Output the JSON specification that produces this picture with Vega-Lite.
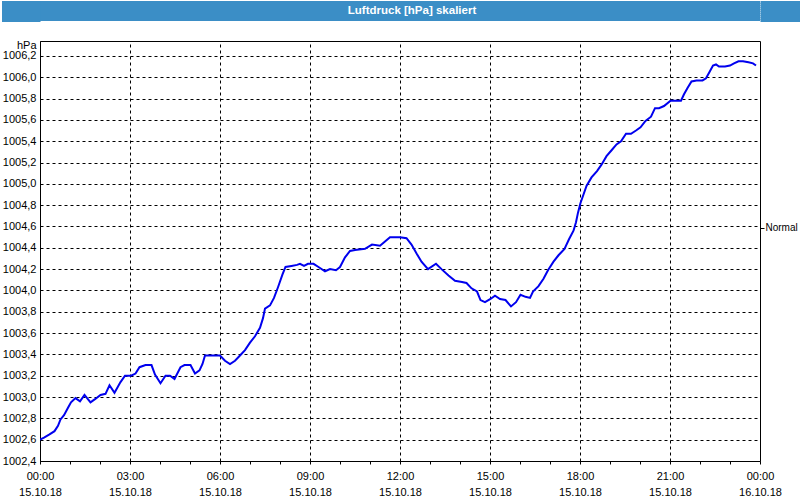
{
  "$schema": "https://vega.github.io/schema/vega-lite/v6.json",
  "background": "white",
  "padding": 0,
  "spacing": 16,
  "vconcat": [
    {
      "width": 720,
      "height": 20,
      "view": {"fill": "#3b8ec6", "stroke": null},
      "data": {"values": [{"title": "Luftdruck [hPa] skaliert"}]},
      "layer": [
        {
          "mark": {"type": "text", "color": "white", "font": "Liberation Sans", "fontWeight": "bold", "fontSize": 11.5, "dx": 12, "baseline": "middle"},
          "encoding": {
            "text": {"field": "title", "type": "nominal"},
            "y": {"datum": 0.5, "type": "quantitative", "scale": {"domain": [0, 1], "nice": false},
                  "axis": {"orient": "left", "values": [0.05, 0.15, 0.25, 0.35, 0.45, 0.55, 0.65, 0.75, 0.85, 0.95], "tickSize": 38.5, "tickWidth": 3, "tickColor": "#3b8ec6", "tickCap": "butt", "labels": false, "domain": false, "grid": false, "title": null}}
          }
        },
        {
          "mark": {"type": "text"},
          "encoding": {
            "text": {"value": ""},
            "y": {"datum": 0.5, "type": "quantitative", "scale": {"domain": [0, 1], "nice": false},
                  "axis": {"orient": "right", "values": [0.05, 0.15, 0.25, 0.35, 0.45, 0.55, 0.65, 0.75, 0.85, 0.95], "tickSize": 40, "tickWidth": 3, "tickColor": "#3b8ec6", "tickCap": "butt", "labels": false, "domain": false, "grid": false, "title": null}}
          }
        }
      ],
      "resolve": {"axis": {"y": "independent"}}
    },
    {
      "width": 720,
      "height": 420,
      "view": {"stroke": "black", "strokeWidth": 1, "fill": "white"},
      "layer": [
        {
          "data": {"values": [
            {"t": "2018-10-15T00:00", "p": 1002.60},
            {"t": "2018-10-15T00:08", "p": 1002.62},
            {"t": "2018-10-15T00:19", "p": 1002.65},
            {"t": "2018-10-15T00:29", "p": 1002.68},
            {"t": "2018-10-15T00:36", "p": 1002.73},
            {"t": "2018-10-15T00:41", "p": 1002.79},
            {"t": "2018-10-15T00:48", "p": 1002.83},
            {"t": "2018-10-15T00:56", "p": 1002.90},
            {"t": "2018-10-15T01:02", "p": 1002.95},
            {"t": "2018-10-15T01:11", "p": 1002.99},
            {"t": "2018-10-15T01:20", "p": 1002.96},
            {"t": "2018-10-15T01:29", "p": 1003.02},
            {"t": "2018-10-15T01:41", "p": 1002.95},
            {"t": "2018-10-15T01:50", "p": 1002.98},
            {"t": "2018-10-15T02:01", "p": 1003.02},
            {"t": "2018-10-15T02:11", "p": 1003.03},
            {"t": "2018-10-15T02:19", "p": 1003.11},
            {"t": "2018-10-15T02:29", "p": 1003.04},
            {"t": "2018-10-15T02:41", "p": 1003.14},
            {"t": "2018-10-15T02:50", "p": 1003.20},
            {"t": "2018-10-15T03:02", "p": 1003.20},
            {"t": "2018-10-15T03:11", "p": 1003.22},
            {"t": "2018-10-15T03:19", "p": 1003.28},
            {"t": "2018-10-15T03:31", "p": 1003.30},
            {"t": "2018-10-15T03:43", "p": 1003.30},
            {"t": "2018-10-15T03:50", "p": 1003.21},
            {"t": "2018-10-15T04:01", "p": 1003.13},
            {"t": "2018-10-15T04:11", "p": 1003.20},
            {"t": "2018-10-15T04:20", "p": 1003.20},
            {"t": "2018-10-15T04:29", "p": 1003.17},
            {"t": "2018-10-15T04:41", "p": 1003.28},
            {"t": "2018-10-15T04:49", "p": 1003.30},
            {"t": "2018-10-15T05:01", "p": 1003.30},
            {"t": "2018-10-15T05:10", "p": 1003.22},
            {"t": "2018-10-15T05:19", "p": 1003.25},
            {"t": "2018-10-15T05:25", "p": 1003.31},
            {"t": "2018-10-15T05:30", "p": 1003.39},
            {"t": "2018-10-15T06:00", "p": 1003.39},
            {"t": "2018-10-15T06:10", "p": 1003.34},
            {"t": "2018-10-15T06:20", "p": 1003.31},
            {"t": "2018-10-15T06:30", "p": 1003.34},
            {"t": "2018-10-15T06:40", "p": 1003.39},
            {"t": "2018-10-15T06:50", "p": 1003.44},
            {"t": "2018-10-15T07:00", "p": 1003.51},
            {"t": "2018-10-15T07:10", "p": 1003.57},
            {"t": "2018-10-15T07:20", "p": 1003.65},
            {"t": "2018-10-15T07:26", "p": 1003.74},
            {"t": "2018-10-15T07:30", "p": 1003.83},
            {"t": "2018-10-15T07:40", "p": 1003.86},
            {"t": "2018-10-15T07:48", "p": 1003.93},
            {"t": "2018-10-15T07:56", "p": 1004.03},
            {"t": "2018-10-15T08:05", "p": 1004.15},
            {"t": "2018-10-15T08:11", "p": 1004.22},
            {"t": "2018-10-15T08:23", "p": 1004.23},
            {"t": "2018-10-15T08:34", "p": 1004.24},
            {"t": "2018-10-15T08:40", "p": 1004.25},
            {"t": "2018-10-15T08:48", "p": 1004.23},
            {"t": "2018-10-15T08:56", "p": 1004.25},
            {"t": "2018-10-15T09:07", "p": 1004.25},
            {"t": "2018-10-15T09:17", "p": 1004.22},
            {"t": "2018-10-15T09:30", "p": 1004.18},
            {"t": "2018-10-15T09:40", "p": 1004.20},
            {"t": "2018-10-15T09:52", "p": 1004.19},
            {"t": "2018-10-15T10:00", "p": 1004.22},
            {"t": "2018-10-15T10:10", "p": 1004.31},
            {"t": "2018-10-15T10:20", "p": 1004.37},
            {"t": "2018-10-15T10:30", "p": 1004.38},
            {"t": "2018-10-15T10:50", "p": 1004.39},
            {"t": "2018-10-15T11:04", "p": 1004.43},
            {"t": "2018-10-15T11:20", "p": 1004.42},
            {"t": "2018-10-15T11:30", "p": 1004.46},
            {"t": "2018-10-15T11:40", "p": 1004.50},
            {"t": "2018-10-15T12:00", "p": 1004.50},
            {"t": "2018-10-15T12:13", "p": 1004.49},
            {"t": "2018-10-15T12:23", "p": 1004.43},
            {"t": "2018-10-15T12:34", "p": 1004.34},
            {"t": "2018-10-15T12:43", "p": 1004.27},
            {"t": "2018-10-15T12:56", "p": 1004.20},
            {"t": "2018-10-15T13:12", "p": 1004.25},
            {"t": "2018-10-15T13:23", "p": 1004.20},
            {"t": "2018-10-15T13:37", "p": 1004.14},
            {"t": "2018-10-15T13:50", "p": 1004.09},
            {"t": "2018-10-15T14:04", "p": 1004.08},
            {"t": "2018-10-15T14:13", "p": 1004.07},
            {"t": "2018-10-15T14:23", "p": 1004.02},
            {"t": "2018-10-15T14:34", "p": 1003.99},
            {"t": "2018-10-15T14:41", "p": 1003.91},
            {"t": "2018-10-15T14:50", "p": 1003.89},
            {"t": "2018-10-15T15:01", "p": 1003.92},
            {"t": "2018-10-15T15:10", "p": 1003.95},
            {"t": "2018-10-15T15:20", "p": 1003.92},
            {"t": "2018-10-15T15:31", "p": 1003.91},
            {"t": "2018-10-15T15:42", "p": 1003.85},
            {"t": "2018-10-15T15:52", "p": 1003.89},
            {"t": "2018-10-15T16:01", "p": 1003.96},
            {"t": "2018-10-15T16:11", "p": 1003.94},
            {"t": "2018-10-15T16:20", "p": 1003.93},
            {"t": "2018-10-15T16:26", "p": 1003.99},
            {"t": "2018-10-15T16:37", "p": 1004.04},
            {"t": "2018-10-15T16:47", "p": 1004.11},
            {"t": "2018-10-15T16:56", "p": 1004.19},
            {"t": "2018-10-15T17:07", "p": 1004.27},
            {"t": "2018-10-15T17:17", "p": 1004.33},
            {"t": "2018-10-15T17:29", "p": 1004.39},
            {"t": "2018-10-15T17:38", "p": 1004.48},
            {"t": "2018-10-15T17:47", "p": 1004.56},
            {"t": "2018-10-15T17:52", "p": 1004.64},
            {"t": "2018-10-15T17:56", "p": 1004.73},
            {"t": "2018-10-15T18:01", "p": 1004.82},
            {"t": "2018-10-15T18:07", "p": 1004.90},
            {"t": "2018-10-15T18:13", "p": 1004.98},
            {"t": "2018-10-15T18:23", "p": 1005.06},
            {"t": "2018-10-15T18:34", "p": 1005.12},
            {"t": "2018-10-15T18:43", "p": 1005.18},
            {"t": "2018-10-15T18:53", "p": 1005.26},
            {"t": "2018-10-15T19:04", "p": 1005.32},
            {"t": "2018-10-15T19:13", "p": 1005.37},
            {"t": "2018-10-15T19:22", "p": 1005.40},
            {"t": "2018-10-15T19:32", "p": 1005.47},
            {"t": "2018-10-15T19:42", "p": 1005.47},
            {"t": "2018-10-15T19:52", "p": 1005.50},
            {"t": "2018-10-15T20:01", "p": 1005.53},
            {"t": "2018-10-15T20:11", "p": 1005.59},
            {"t": "2018-10-15T20:22", "p": 1005.63},
            {"t": "2018-10-15T20:30", "p": 1005.71},
            {"t": "2018-10-15T20:38", "p": 1005.71},
            {"t": "2018-10-15T20:48", "p": 1005.73},
            {"t": "2018-10-15T21:01", "p": 1005.78},
            {"t": "2018-10-15T21:22", "p": 1005.78},
            {"t": "2018-10-15T21:28", "p": 1005.84},
            {"t": "2018-10-15T21:35", "p": 1005.90},
            {"t": "2018-10-15T21:43", "p": 1005.96},
            {"t": "2018-10-15T21:53", "p": 1005.97},
            {"t": "2018-10-15T22:05", "p": 1005.97},
            {"t": "2018-10-15T22:12", "p": 1005.99},
            {"t": "2018-10-15T22:19", "p": 1006.05},
            {"t": "2018-10-15T22:26", "p": 1006.11},
            {"t": "2018-10-15T22:32", "p": 1006.12},
            {"t": "2018-10-15T22:38", "p": 1006.10},
            {"t": "2018-10-15T22:50", "p": 1006.10},
            {"t": "2018-10-15T23:00", "p": 1006.11},
            {"t": "2018-10-15T23:08", "p": 1006.13},
            {"t": "2018-10-15T23:17", "p": 1006.15},
            {"t": "2018-10-15T23:26", "p": 1006.15},
            {"t": "2018-10-15T23:37", "p": 1006.14},
            {"t": "2018-10-15T23:46", "p": 1006.13},
            {"t": "2018-10-15T23:52", "p": 1006.11}
          ]},
          "mark": {"type": "line", "color": "#0000ee", "strokeWidth": 2, "clip": true},
          "encoding": {
            "x": {
              "field": "t", "type": "temporal",
              "scale": {"domain": ["2018-10-15T00:00", "2018-10-16T00:00"], "nice": false},
              "axis": {
                "orient": "bottom",
                "title": null,
                "values": ["2018-10-15T00:00", "2018-10-15T01:00", "2018-10-15T02:00", "2018-10-15T03:00", "2018-10-15T04:00", "2018-10-15T05:00", "2018-10-15T06:00", "2018-10-15T07:00", "2018-10-15T08:00", "2018-10-15T09:00", "2018-10-15T10:00", "2018-10-15T11:00", "2018-10-15T12:00", "2018-10-15T13:00", "2018-10-15T14:00", "2018-10-15T15:00", "2018-10-15T16:00", "2018-10-15T17:00", "2018-10-15T18:00", "2018-10-15T19:00", "2018-10-15T20:00", "2018-10-15T21:00", "2018-10-15T22:00", "2018-10-15T23:00", "2018-10-16T00:00"],
                "tickSize": 3, "tickColor": "black", "tickWidth": 1,
                "domainColor": "black", "domainWidth": 1,
                "grid": false,
                "labelExpr": "round(datum.index * 24) % 3 == 0 ? [timeFormat(datum.value, '%H:%M'), timeFormat(datum.value, '%d.%m.%y')] : ''",
                "labelOverlap": false, "labelFlush": false, "labelBound": false,
                "labelPadding": 6, "labelLineHeight": 16, "labelBaseline": "top",
                "labelFont": "Liberation Sans", "labelFontSize": 11, "labelColor": "black"
              }
            },
            "y": {
              "field": "p", "type": "quantitative",
              "scale": {"domain": [1002.4, 1006.34], "nice": false, "zero": false},
              "axis": {
                "orient": "left",
                "title": "hPa", "titleAngle": 0, "titleX": -4, "titleY": 4, "titleAlign": "right", "titleBaseline": "middle",
                "titleFont": "Liberation Sans", "titleFontSize": 11, "titleFontWeight": "normal", "titleColor": "black",
                "values": [1002.4, 1002.6, 1002.8, 1003.0, 1003.2, 1003.4, 1003.6, 1003.8, 1004.0, 1004.2, 1004.4, 1004.6, 1004.8, 1005.0, 1005.2, 1005.4, 1005.6, 1005.8, 1006.0, 1006.2],
                "labelExpr": "replace(format(datum.value, '.1f'), '.', ',')",
                "ticks": false, "labelPadding": 4,
                "domainColor": "black", "domainWidth": 1,
                "grid": true, "gridColor": "black", "gridDash": [3, 3], "gridWidth": 1, "gridOpacity": 1,
                "labelFont": "Liberation Sans", "labelFontSize": 11, "labelColor": "black", "labelOverlap": false, "labelBound": false
              }
            }
          }
        },
        {
          "data": {"values": [{"p": 1004.59, "t": "2018-10-15T12:00", "label": "Normal"}]},
          "mark": {"type": "text"},
          "encoding": {
            "text": {"value": ""},
            "x": {
              "field": "t", "type": "temporal",
              "scale": {"domain": ["2018-10-15T00:00", "2018-10-16T00:00"], "nice": false},
              "axis": {
                "orient": "top", "title": null,
                "values": ["2018-10-15T03:00", "2018-10-15T06:00", "2018-10-15T09:00", "2018-10-15T12:00", "2018-10-15T15:00", "2018-10-15T18:00", "2018-10-15T21:00"],
                "ticks": false, "labels": false, "domain": false,
                "grid": true, "gridColor": "black", "gridDash": [3, 3], "gridWidth": 1, "gridOpacity": 1
              }
            },
            "y": {
              "field": "p", "type": "quantitative",
              "scale": {"domain": [1002.4, 1006.34], "nice": false, "zero": false},
              "axis": {
                "orient": "right", "title": null,
                "values": [1004.59],
                "labelExpr": "'Normal'",
                "grid": false, "domain": false,
                "tickSize": 4, "tickColor": "black", "labelPadding": 1,
                "labelFont": "Liberation Sans", "labelFontSize": 10, "labelColor": "black"
              }
            }
          }
        }
      ],
      "resolve": {"axis": {"x": "independent", "y": "independent"}}
    }
  ]
}
